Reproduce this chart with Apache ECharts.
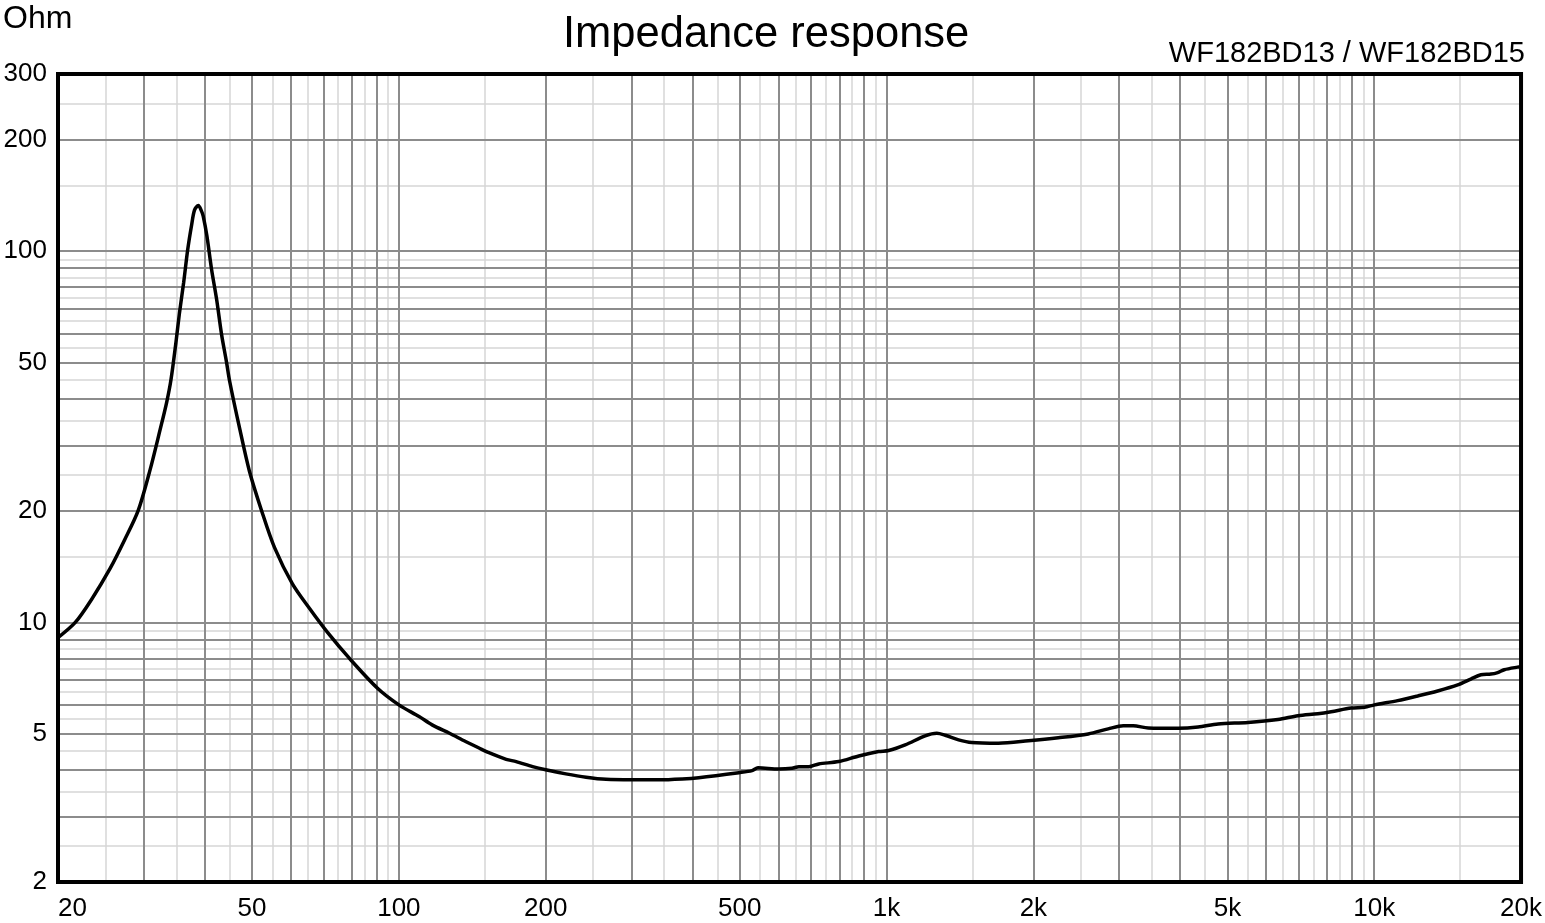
<!DOCTYPE html>
<html>
<head>
<meta charset="utf-8">
<script src="https://cdn.jsdelivr.net/npm/echarts@6/dist/echarts.min.js"></script>
<style>
html,body{margin:0;padding:0;background:#fff;}
#c{width:1545px;height:923px;}
</style>
</head>
<body>
<div id="c"></div>
<script>
// ---- data ----
const freq = [20, 21.7, 23.4, 25.6, 27.4, 29.2, 30.9, 32.4, 33.4, 34.1, 34.9, 35.5, 36.2, 36.9, 37.6, 38.1, 38.8, 39.4, 39.7, 40.4, 41.3, 42.3, 43.3, 44.3, 45.0, 47.2, 49.4, 52.3, 55.6, 60.5, 65.6, 71.4, 79.2, 90.4, 100, 110, 117, 127, 137, 146, 153, 166, 174, 188, 200, 220, 242, 266, 301, 341, 381, 412, 498, 530, 545, 601, 640, 661, 693, 726, 798, 877, 963, 1010, 1092, 1200, 1268, 1319, 1405, 1495, 1696, 1954, 2250, 2592, 2848, 3057, 3204, 3440, 3962, 4354, 4784, 5510, 6346, 6976, 7662, 8160, 8966, 9550, 10010, 11170, 12280, 13490, 14830, 15780, 16550, 17350, 17910, 18480, 19670, 20000];
const ohm = [9.1, 10.0, 11.5, 14.0, 16.7, 20.0, 25.8, 33.1, 39.1, 45.1, 56.7, 68.4, 82.3, 101, 118, 129, 132.8, 128, 124.2, 109.8, 89.3, 74.1, 59.6, 50.4, 44.5, 33.1, 25.5, 20.0, 15.9, 12.7, 10.9, 9.4, 8.0, 6.65, 6.0, 5.58, 5.30, 5.03, 4.78, 4.59, 4.46, 4.28, 4.22, 4.09, 4.01, 3.91, 3.83, 3.78, 3.77, 3.77, 3.79, 3.82, 3.94, 3.99, 4.06, 4.03, 4.05, 4.09, 4.09, 4.16, 4.22, 4.37, 4.49, 4.52, 4.68, 4.95, 5.03, 4.97, 4.83, 4.75, 4.73, 4.80, 4.89, 5.01, 5.17, 5.27, 5.27, 5.20, 5.19, 5.23, 5.33, 5.38, 5.48, 5.61, 5.68, 5.75, 5.88, 5.91, 6.00, 6.16, 6.34, 6.54, 6.79, 7.04, 7.23, 7.26, 7.33, 7.46, 7.58, 7.6];

const xTickLabels = [20, 50, 100, 200, 500, 1000, 2000, 5000, 10000, 20000];
const yTickLabels = [2, 5, 10, 20, 50, 100, 200, 300];
const xMajorGrid = [30,40,50,60,70,80,90,100,200,300,400,500,600,700,800,900,1000,2000,3000,4000,5000,6000,7000,8000,9000,10000];
const xMinorGrid = [25,35,45,55,65,75,85,95,150,250,350,450,550,650,750,850,950,1500,2500,3500,4500,5500,6500,7500,8500,9500,15000];
const yMajorGrid = [3,4,5,6,7,8,9,10,20,30,40,50,60,70,80,90,100,200];
const yMinorGrid = [2.5,3.5,4.5,5.5,6.5,7.5,8.5,9.5,15,25,35,45,55,65,75,85,95,150,250];

const FONT = 'Liberation Sans, Arial, sans-serif';
function fmtHz(v){ return v >= 1000 ? (v/1000) + 'k' : String(v); }

const chart = echarts.init(document.getElementById('c'), null, {renderer:'canvas'});

function gridSeries(xs, ys, color, width, z){
  const d = [];
  xs.forEach(v => d.push({xAxis: v}));
  ys.forEach(v => d.push({yAxis: v}));
  return {
    type: 'line', data: [], z: z, silent: true, animation: false,
    markLine: {
      silent: true, symbol: ['none','none'], animation: false,
      label: {show: false},
      lineStyle: {color: color, width: width, type: 'solid'},
      emphasis: {disabled: true},
      data: d
    }
  };
}

chart.setOption({
  animation: false,
  backgroundColor: '#fff',
  title: [
    {text: 'Impedance response', left: 563, top: 13, padding: 0,
     textStyle: {fontFamily: FONT, fontSize: 43.5, fontWeight: 'normal', color: '#000'}},
    {text: 'Ohm', left: 3, top: 3, padding: 0,
     textStyle: {fontFamily: FONT, fontSize: 32, fontWeight: 'normal', color: '#000'}},
    {text: 'WF182BD13 / WF182BD15', right: 20, top: 39, padding: 0,
     textStyle: {fontFamily: FONT, fontSize: 29, fontWeight: 'normal', color: '#000'}}
  ],
  grid: {left: 58, right: 22, top: 74, bottom: 41, show: true, z: 10,
         borderColor: '#000', borderWidth: 4, backgroundColor: 'transparent'},
  xAxis: {
    type: 'log', logBase: 10, min: 20, max: 20000,
    axisLine: {show: false}, axisTick: {show: false}, splitLine: {show: false},
    minorTick: {show: false}, minorSplitLine: {show: false},
    axisLabel: {
      customValues: xTickLabels, formatter: fmtHz, margin: 14,
      fontFamily: FONT, fontSize: 26, color: '#000',
      alignMinLabel: 'left', alignMaxLabel: 'center', showMinLabel: true, showMaxLabel: true
    }
  },
  yAxis: {
    type: 'log', logBase: 10, min: 2, max: 300,
    axisLine: {show: false}, axisTick: {show: false}, splitLine: {show: false},
    minorTick: {show: false}, minorSplitLine: {show: false},
    axisLabel: {
      customValues: yTickLabels, margin: 11,
      fontFamily: FONT, fontSize: 26, color: '#000', showMinLabel: true, showMaxLabel: true
    }
  },
  series: [
    gridSeries(xMinorGrid, yMinorGrid, '#d6d6d6', 1.5, 1),
    gridSeries(xMajorGrid, yMajorGrid, '#8c8c8c', 2, 2),
    {
      type: 'line', z: 5, showSymbol: false, smooth: 0.3, silent: true,
      lineStyle: {color: '#000', width: 3.5},
      data: freq.map((f, i) => [f, ohm[i]])
    }
  ]
});
</script>
</body>
</html>
